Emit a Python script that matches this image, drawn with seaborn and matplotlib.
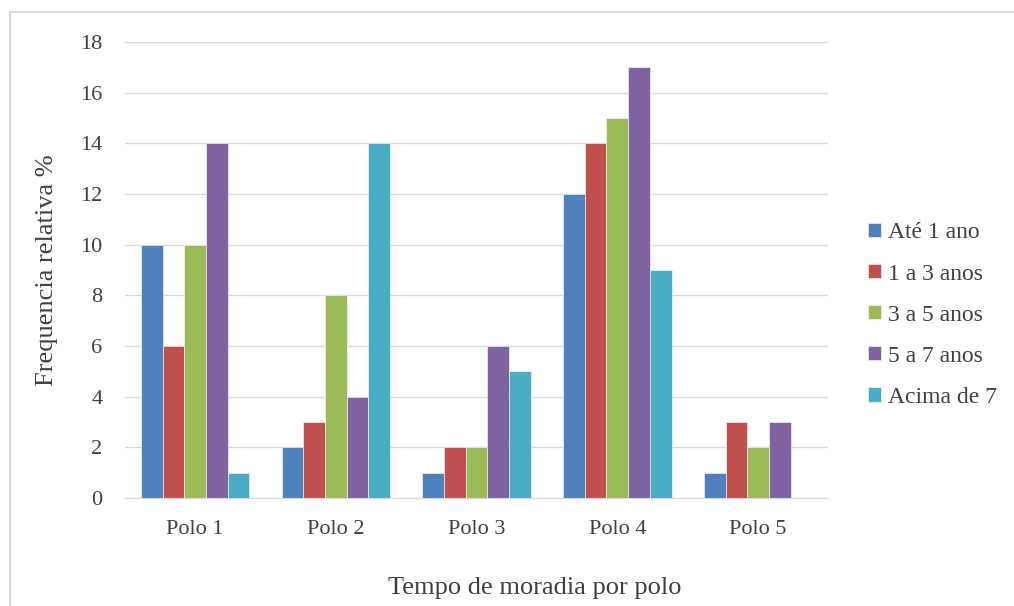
import pandas as pd
import matplotlib.pyplot as plt
import seaborn as sns
from matplotlib.patches import Rectangle

# Dados
polos = ['Polo 1', 'Polo 2', 'Polo 3', 'Polo 4', 'Polo 5']
faixas = ['Até 1 ano', '1 a 3 anos', '3 a 5 anos', '5 a 7 anos', 'Acima de 7']
ate_1 = [10, 2, 1, 12, 1]
de_1_a_3 = [6, 3, 2, 14, 3]
de_3_a_5 = [10, 8, 2, 15, 2]
de_5_a_7 = [14, 4, 6, 17, 3]
acima_7 = [1, 14, 5, 9, 0]
cores = ['#4F81BD', '#C0504D', '#9BBB59', '#8064A2', '#4BACC6']

series = [ate_1, de_1_a_3, de_3_a_5, de_5_a_7, acima_7]
linhas = []
for faixa, valores in zip(faixas, series):
    for polo, v in zip(polos, valores):
        linhas.append({'Polo': polo, 'Faixa': faixa, 'Valor': v})
df = pd.DataFrame(linhas)

sns.set_style("white")
plt.rcParams['font.family'] = ['Liberation Serif', 'DejaVu Serif']

fig = plt.figure(figsize=(10.14, 6.06), dpi=100)
ax = fig.add_axes([0.123, 0.178, 0.694, 0.753])

sns.barplot(data=df, x='Polo', y='Valor', hue='Faixa', order=polos, hue_order=faixas,
            palette=cores, saturation=1, width=0.77, gap=0, errorbar=None, ax=ax,
            edgecolor='white', linewidth=0.4)

ax.set_ylim(0, 18)
ax.set_yticks(range(0, 19, 2))
ax.set_xlim(-0.5, 4.5)
ax.yaxis.grid(True, color='#d9d9d9', linewidth=1)
ax.set_axisbelow(True)
for s in ['top', 'right', 'left']:
    ax.spines[s].set_visible(False)
ax.spines['bottom'].set_color('#d9d9d9')
ax.tick_params(axis='y', length=0, labelsize=16, colors='#404040', pad=16)
ax.tick_params(axis='x', length=0, labelsize=16, colors='#404040', pad=16)

# título do eixo x centrado no gráfico inteiro
ax.set_xlabel('Tempo de moradia por polo', fontsize=19, color='#404040', labelpad=27, x=0.582)
ax.set_ylabel('Frequencia relativa %', fontsize=19, color='#404040', labelpad=16)

ax.legend(loc='center left', bbox_to_anchor=(0.835, 0.48), bbox_transform=fig.transFigure,
          frameon=False, fontsize=17, handlelength=0.55, handleheight=0.55,
          handletextpad=0.3, labelspacing=0.85, labelcolor='#404040')

# moldura do gráfico
fig.patches.append(Rectangle((10 / 1014, -0.05), 1.2, 1 - 12 / 606 + 0.05,
                             transform=fig.transFigure, fill=False,
                             edgecolor='#d9d9d9', linewidth=1.5))

fig.savefig('out.png', dpi=100)
